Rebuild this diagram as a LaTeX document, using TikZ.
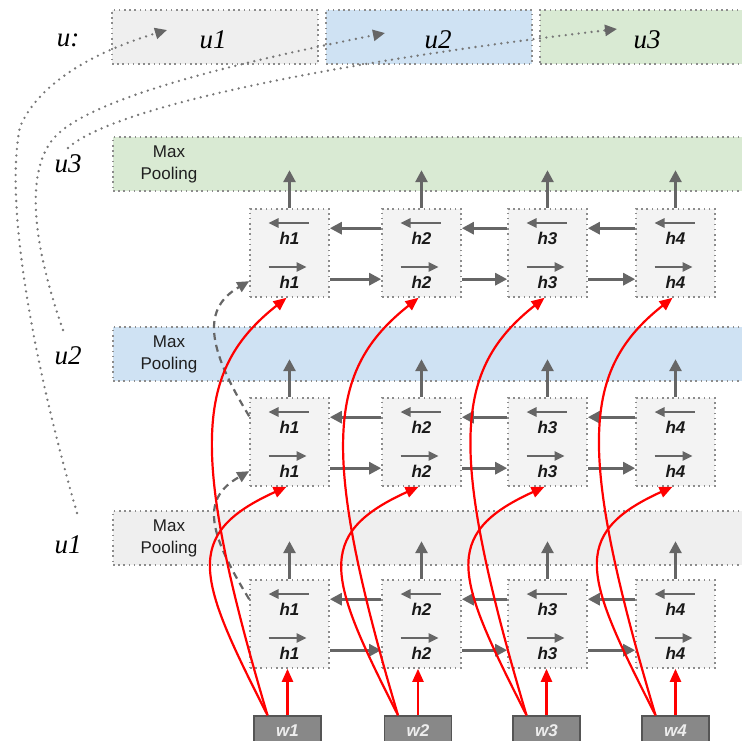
\documentclass[tikz,border=0pt]{standalone}
\usepackage{fontspec}
\setmainfont{Liberation Serif}
\setsansfont{Liberation Sans}
\usetikzlibrary{arrows.meta}
\definecolor{ugray}{HTML}{EFEFEF}
\definecolor{ublue}{HTML}{CFE2F3}
\definecolor{ugreen}{HTML}{D9EAD3}
\definecolor{hfill}{HTML}{F3F3F3}
\definecolor{dotc}{HTML}{8C8C8C}
\definecolor{arrc}{HTML}{666666}
\definecolor{wfill}{HTML}{888888}
\definecolor{wline}{HTML}{555555}
\definecolor{curvec}{HTML}{777777}
\tikzset{
 dotbox/.style={draw=dotc, line width=1.6pt, dash pattern=on 1.6pt off 3.6pt, inner sep=0pt},
 ubox/.style={dotbox, minimum height=54pt},
 barbox/.style={dotbox, minimum width=632pt, minimum height=54pt},
 hbox/.style={dotbox, fill=hfill, minimum width=79pt, minimum height=88pt},
 wbox/.style={draw=wline, line width=1.5pt, fill=wfill, minimum width=67pt, minimum height=29pt, inner sep=0pt, text=white!93!black, font=\sffamily\bfseries\itshape\fontsize{17}{17}\selectfont},
 ulab/.style={font=\itshape\fontsize{27}{27}\selectfont, inner sep=0pt},
 hlab/.style={font=\sffamily\bfseries\itshape\fontsize{17}{17}\selectfont, text=black!90, inner sep=0pt},
 mplab/.style={font=\sffamily\fontsize{17}{22}\selectfont, align=center, text=black!88, inner sep=0pt},
 garrow/.style={draw=arrc, line width=2.8pt, -{Triangle[length=12pt,width=12pt,color=arrc]}},
 sarrow/.style={draw=arrc, line width=2.4pt, -{Triangle[length=10pt,width=9pt,color=arrc]}},
 rarrow/.style={draw=red, line width=2.2pt, -{Triangle[length=13pt,width=11pt,color=red]}},
 darrow/.style={draw=arrc, line width=2.2pt, dash pattern=on 7pt off 5pt, -{Triangle[length=12pt,width=11pt,color=arrc]}},
 uarrow/.style={draw=curvec, line width=2.6pt, line cap=round, dash pattern=on 0pt off 6.5pt, -{Triangle[length=12pt,width=11pt,color=arrc]}},
}
\begin{document}
\begin{tikzpicture}[x=1pt,y=-1pt]
\useasboundingbox (0,0) rectangle (742,741);
\clip (0,0) rectangle (742,741);
% top u row
\node[ubox, fill=ugray, minimum width=206pt] (U1) at (215,37) {};
\node[ubox, fill=ublue, minimum width=206pt] (U2) at (429,37) {};
\node[ubox, fill=ugreen, minimum width=210pt] (U3) at (645,37) {};
\node[ulab] (Uc) at (68,40) {u:};
\node[ulab] (U1t) at (213,40) {u1};
\node[ulab] (U2t) at (438,40) {u2};
\node[ulab] (U3t) at (647,40) {u3};
% left labels
\node[ulab] (L3) at (68,164) {u3};
\node[ulab] (L2) at (68,356) {u2};
\node[ulab] (L1) at (68,545) {u1};
% pooling bars
\node[barbox, fill=ugreen] (P3) at (429,164) {};
\node[barbox, fill=ublue] (P2) at (429,354) {};
\node[barbox, fill=ugray] (P1) at (429,538) {};
\node[mplab] (M3) at (169,164) {Max\\Pooling};
\node[mplab] (M2) at (169,354) {Max\\Pooling};
\node[mplab] (M1) at (169,538) {Max\\Pooling};
% h boxes
\foreach \L/\ty in {1/580,2/398,3/209} {
  \foreach \c/\cx in {1/289.5,2/421.5,3/547.5,4/675.5} {
    \node[hbox] (h\L\c) at (\cx,\ty+44) {};
    \draw[sarrow] (\cx+19,\ty+14) -- (\cx-21,\ty+14);
    \node[hlab] (ta\L\c) at (\cx,\ty+29) {h\c};
    \draw[sarrow] (\cx-21,\ty+58) -- (\cx+17,\ty+58);
    \node[hlab] (tb\L\c) at (\cx,\ty+73) {h\c};
    \draw[garrow] (h\L\c.north) -- ++(0,-38);
  }
  \foreach \c/\n in {1/2,2/3,3/4} {
    \draw[garrow] ([yshift=-20pt]h\L\n.north west) -- ([yshift=-20pt]h\L\c.north east);
    \draw[garrow] ([yshift=-71pt]h\L\c.north east) -- ([yshift=-71pt]h\L\n.north west);
  }
}
% words
\foreach \c/\wx in {1/287.5,2/418,3/546.5,4/675.5} {
  \node[wbox] (w\c) at (\wx,730.5) {w\c};
}
% dashed layer links
\draw[darrow] ([yshift=-20pt]h11.north west) .. controls +(-43,-70) and +(-47,27) .. ([yshift=-74pt]h21.north west);
\draw[darrow] ([yshift=-19pt]h21.north west) .. controls +(-43,-70) and +(-47,27) .. ([yshift=-73pt]h31.north west);
% red inputs
\foreach \c in {1,2,3,4} {
  \draw[rarrow] (w\c.north) -- (w\c.north |- h1\c.south);
  \draw[rarrow] ([xshift=-20pt]w\c.north) .. controls +(-69,-136) and +(-106,48) .. ([xshift=-3pt]h2\c.south);
  \draw[rarrow] ([xshift=-20pt]w\c.north) .. controls +(-79,-266) and +(-91,72) .. ([xshift=-3pt]h3\c.south);
}
% dotted u curves
\coordinate (c1s) at (77,513);
\coordinate (c1e) at (167,30);
\coordinate (c2s) at (63,330);
\coordinate (c2e) at (385,33);
\coordinate (c3s) at (68,148);
\coordinate (c3e) at (617,29);
\draw[uarrow] (c1s) .. controls (30,350) and (5,200) .. (20,127) .. controls (40,80) and (100,50) .. (c1e);
\draw[uarrow] (c2s) .. controls (35,250) and (25,180) .. (50,143) .. controls (75,105) and (200,70) .. (c2e);
\draw[uarrow] (c3s) .. controls (115,105) and (350,60) .. (c3e);
\end{tikzpicture}
\end{document}
